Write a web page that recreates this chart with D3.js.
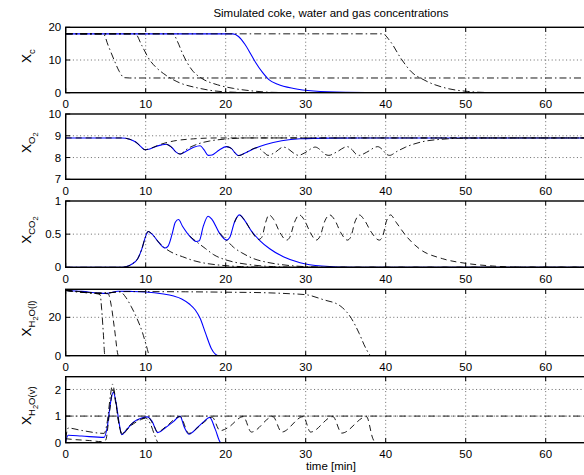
<!DOCTYPE html>
<html><head><meta charset="utf-8">
<script src="https://cdn.jsdelivr.net/npm/d3@7"></script>
<style>body{margin:0;background:#fff} svg{display:block} text{font-family:"Liberation Sans",Arial,Helvetica,sans-serif}</style>
</head><body><svg id="c" width="584" height="475"></svg>
<script>
// ---------- data ----------
const xTicks = [0,10,20,30,40,50,60];
const title = "Simulated coke, water and gas concentrations";
const xLabel = "time [min]";

// Panel 1: X_c
const xcTicks = [0,10,20];
const xcBlue = [[0,18],[20.9,18],[21.6,17.2],[22.4,14.8],[23.2,11.5],[23.8,9],[24.6,6.2],[25.4,4],[26.5,2.6],[28.5,1.3],[31,0.5],[35,0.1],[40,0],[70,0]];
const xcPos1 = [[0,18],[4.7,18],[5.3,14.5],[6,10.3],[6.7,6.5],[7.3,4.6],[8,4.5],[70,4.5]];
const xcPos2 = [[0,18],[8.7,18],[9.5,14.5],[10.5,10],[11.4,7.5],[12.2,5.9],[13.9,3.4],[16.8,1.3],[19.7,0.3],[24,0],[70,0]];
const xcPos3 = [[0,18],[13.4,18],[14,15.5],[14.6,12],[15.8,6.9],[17,4.4],[19,2.4],[21,1.3],[23.5,0.5],[26,0.1],[30,0],[70,0]];
const xcPos4 = [[0,18],[39.6,18],[40.6,15.6],[41.9,10.5],[43.2,6.4],[44.8,3.9],[47.7,1.3],[50.2,0.4],[53,0.05],[56,0],[70,0]];

// Panel 2: X_O2
const o2Ticks = [7,8,9,10];
const o2Blue = [[0,8.9],[7,8.9],[8,8.84],[8.8,8.7],[9.4,8.5],[9.9,8.36],[10.4,8.38],[11.2,8.5],[12,8.58],[12.6,8.61],[13.3,8.45],[13.8,8.25],[14.3,8.16],[15,8.28],[16,8.47],[16.8,8.54],[17.3,8.35],[17.8,8.1],[18.3,8.12],[19.2,8.35],[20.1,8.5],[20.7,8.42],[21.2,8.2],[21.6,8.09],[22.3,8.18],[23.5,8.4],[25,8.6],[27,8.77],[29.3,8.86],[33,8.89],[40,8.9],[70,8.9]];
const o2Pos1 = [[0,8.9],[7,8.9],[8,8.84],[8.8,8.7],[9.4,8.5],[9.9,8.36],[10.6,8.42],[11.8,8.6],[13.5,8.76],[16,8.86],[19,8.9],[70,8.9]];
const o2Pos2 = [[12.6,8.61],[13.3,8.45],[13.8,8.25],[14.3,8.16],[15.2,8.4],[16.5,8.62],[18,8.76],[20,8.85],[23,8.9],[70,8.9]];
const o2Pos3 = [[20.1,8.5],[20.7,8.42],[21.2,8.2],[21.6,8.09],[22.5,8.22],[23.4,8.4],[24,8.46],[24.6,8.3],[25.3,8.1],[26.1,8.22],[27.2,8.48],[27.8,8.4],[28.5,8.2],[29.1,8.1],[29.9,8.22],[31.2,8.48],[31.8,8.36],[32.4,8.15],[32.9,8.1],[33.8,8.24],[35.2,8.5],[35.8,8.36],[36.3,8.15],[36.7,8.1],[37.6,8.24],[39,8.5],[39.6,8.36],[40.1,8.15],[40.5,8.1],[41.4,8.28],[42.5,8.48],[44.5,8.72],[47,8.84],[50,8.89],[55,8.9],[70,8.9]];

// Panel 3: X_CO2
const co2Ticks = [0,0.5,1];
const co2Blue = [[0,0],[7,0],[7.6,0.01],[8.3,0.05],[9,0.13],[9.5,0.27],[10,0.47],[10.3,0.54],[10.8,0.5],[11.6,0.38],[12.4,0.29],[12.8,0.32],[13.3,0.5],[13.7,0.68],[14.1,0.72],[14.6,0.62],[15.5,0.47],[16.3,0.39],[16.7,0.4],[17.2,0.62],[17.8,0.77],[18.3,0.72],[19.2,0.52],[20.1,0.41],[20.5,0.45],[21.1,0.68],[21.7,0.79],[22.3,0.72],[23.2,0.55],[24.3,0.4],[25.5,0.28],[27.2,0.16],[29.3,0.07],[32,0.02],[36,0],[70,0]];
const co2Pos1 = [[0,0],[7,0],[7.6,0.01],[8.3,0.05],[9,0.13],[9.5,0.27],[10,0.47],[10.3,0.54],[10.8,0.5],[11.6,0.38],[12.4,0.29],[13.5,0.21],[14.6,0.16],[16,0.1],[17.5,0.06],[19.5,0.03],[22,0.01],[26,0],[70,0]];
const co2Pos2 = [[15.5,0.47],[16.3,0.39],[17.5,0.28],[18.5,0.19],[19.8,0.12],[21,0.08],[23,0.04],[26,0.01],[30,0],[70,0]];
const co2Pos3 = [[19.2,0.52],[20.1,0.41],[21,0.3],[22,0.22],[23.5,0.13],[25,0.08],[27,0.04],[30,0.01],[34,0],[70,0]];
const co2Pos4 = [[21.1,0.68],[21.7,0.79],[22.3,0.72],[23.2,0.55],[24.1,0.42],[24.5,0.45],[25,0.68],[25.4,0.79],[26,0.72],[26.8,0.52],[27.6,0.41],[28,0.45],[28.6,0.68],[29.2,0.79],[29.8,0.72],[30.6,0.52],[31.3,0.41],[31.8,0.47],[32.4,0.7],[33,0.79],[33.6,0.72],[34.4,0.52],[35.2,0.41],[35.6,0.45],[36.2,0.7],[36.7,0.79],[37.3,0.72],[38.2,0.53],[39.2,0.41],[39.6,0.46],[40.1,0.7],[40.6,0.79],[41.3,0.68],[42.5,0.48],[44.2,0.28],[47.1,0.13],[50,0.06],[53.3,0.02],[57,0],[70,0]];

// Panel 4: X_H2O(l)
const h2olTicks = [0,20];
const h2olBlue = [[0,34],[2,33.5],[4,32.7],[5,32.4],[5.6,32.8],[6.5,33.6],[8,33.5],[10,33.2],[12,32.3],[13.5,31.1],[14.5,29.6],[15.5,26.8],[16.2,23.8],[16.8,19.5],[17.5,11.5],[18.2,3.8],[18.7,0.8],[19.1,0],[70,0]];
const h2olPos1 = [[0,34],[2,33.2],[4,32.2],[4.3,31.8],[4.5,24],[4.7,12],[4.9,0],[70,0]];
const h2olPos2 = [[0,34],[2,33.3],[4,32.5],[5.3,32.3],[5.7,26],[6.1,14],[6.6,0],[70,0]];
const h2olPos3 = [[0,34],[4,32.6],[5.5,32.8],[6.8,33.3],[7.5,30.5],[8.2,25.5],[8.9,19.5],[9.6,12],[10.1,5],[10.5,0],[70,0]];
const h2olPos4 = [[0,34],[4,32.6],[5.5,32.8],[7,33.4],[15,33.3],[20,33.1],[25,32.8],[28,32.3],[30,31.8],[32.2,29.2],[34.3,26],[35.7,19.5],[36.7,11.5],[37.5,4],[38.2,0],[70,0]];

// Panel 5: X_H2O(v)
const h2ovTicks = [0,1,2];
const h2ovBlue = [[0,0.03],[0.3,0.28],[2,0.25],[4.8,0.2],[5.2,0.6],[5.6,1.5],[5.95,1.9],[6.3,1.5],[6.7,0.7],[7,0.3],[7.5,0.45],[8.5,0.78],[9.5,0.93],[10.2,0.97],[10.8,0.8],[11.5,0.38],[12.5,0.57],[13.5,0.8],[14.3,1.0],[14.8,0.6],[15.4,0.32],[16.5,0.58],[17.3,0.8],[18.0,0.95],[18.7,0.5],[19.4,0],[70,0]];
const h2ovPos1 = [[0,1],[70,1]];
const h2ovPos2 = [[0,0.15],[0.3,0.55],[2,0.46],[4.8,0.35],[5.2,0.8],[5.6,1.8],[5.85,2.2],[6.2,1.7],[6.6,0.8],[7,0.33],[8,0.65],[9,0.85],[10,0.93],[10.6,0.7],[11.1,0.3],[11.6,0],[70,0]];
const h2ovPos3 = [[0,0.15],[1,0.12],[3,0.08],[4.5,0.04],[5,0.1],[5.5,1.2],[5.9,2.0],[6.3,1.4],[6.8,0.5],[7.1,0.33],[8,0.6],[9.5,0.88],[10.3,0.95],[11,0.65],[11.5,0.4],[12.5,0.6],[14.3,0.98],[15.4,0.35],[17,0.7],[18.3,0.96],[19.3,0.45],[20.2,0.55],[22.2,0.98],[23.2,0.4],[25.9,0.98],[27,0.4],[29.7,0.98],[30.6,0.4],[33.4,0.98],[34.5,0.36],[37.6,0.98],[38.4,0.15],[38.7,0],[70,0]];

// ---------- drawing ----------
const DASH = "6,4", DASHDOT = "7,3,1.5,3";
const W = 584, H = 475;
const svg = d3.select("#c");
svg.append("rect").attr("width", W).attr("height", H).attr("fill", "#fff");

const x = d3.scaleLinear().domain([0, 70]).range([65.7, 625.7]);

const panels = [
  {top: 27.3, bottom: 92.7, dom: [0, 20], ticks: xcTicks,
   label: [["X",0],["c",1]], blue: xcBlue,
   black: [[xcPos1, DASHDOT],[xcPos2, DASHDOT],[xcPos3, DASHDOT],[xcPos4, DASHDOT]]},
  {top: 114, bottom: 179.3, dom: [7, 10], ticks: o2Ticks,
   label: [["X",0],["O",1],["2",2]], blue: o2Blue,
   black: [[o2Pos1, DASH],[o2Pos2, DASHDOT],[o2Pos3, DASHDOT]]},
  {top: 201, bottom: 267.3, dom: [0, 1], ticks: co2Ticks,
   label: [["X",0],["CO",1],["2",2]], blue: co2Blue,
   black: [[co2Pos1, DASHDOT],[co2Pos2, DASHDOT],[co2Pos3, DASHDOT],[co2Pos4, DASH]]},
  {top: 289.3, bottom: 355.7, dom: [0, 34.6], ticks: h2olTicks,
   label: [["X",0],["H",1],["2",2],["O(l)",1]], blue: h2olBlue,
   black: [[h2olPos1, DASHDOT],[h2olPos2, DASH],[h2olPos3, DASHDOT],[h2olPos4, DASHDOT]]},
  {top: 376.7, bottom: 442.7, dom: [0, 2.48], ticks: h2ovTicks,
   label: [["X",0],["H",1],["2",2],["O(v)",1]], blue: h2ovBlue,
   black: [[h2ovPos1, DASHDOT],[h2ovPos2, DASHDOT],[h2ovPos3, DASH]]}
];

const FS = 11.5;
panels.forEach((p, i) => {
  const y = d3.scaleLinear().domain(p.dom).range([p.bottom, p.top]);
  const g = svg.append("g");
  const cid = "clip" + i;
  svg.append("clipPath").attr("id", cid).append("rect")
    .attr("x", x(0)).attr("y", p.top).attr("width", x(70) - x(0)).attr("height", p.bottom - p.top);

  // grid
  const gg = g.append("g").attr("stroke", "#444").attr("stroke-width", 0.8).attr("stroke-dasharray", "1,2.6");
  xTicks.filter(t => t > 0).forEach(t => {
    gg.append("line").attr("x1", x(t)).attr("x2", x(t)).attr("y1", p.top).attr("y2", p.bottom);
  });
  p.ticks.filter(t => t > p.dom[0] && t < p.dom[1]).forEach(t => {
    gg.append("line").attr("x1", x(0)).attr("x2", x(70)).attr("y1", y(t)).attr("y2", y(t));
  });

  // lines
  const line = d3.line().x(d => x(d[0])).y(d => y(d[1])).curve(d3.curveMonotoneX);
  const lg = g.append("g").attr("clip-path", `url(#${cid})`).attr("fill", "none");
  lg.append("path").attr("d", line(p.blue)).attr("stroke", "#0000ff").attr("stroke-width", 1.1);
  p.black.forEach(([d, dash]) => {
    lg.append("path").attr("d", line(d)).attr("stroke", "#000").attr("stroke-width", 0.9)
      .attr("stroke-dasharray", dash);
  });

  // box
  g.append("rect").attr("x", x(0)).attr("y", p.top).attr("width", x(70) - x(0)).attr("height", p.bottom - p.top)
    .attr("fill", "none").attr("stroke", "#000").attr("stroke-width", 1.4);

  // ticks
  const tg = g.append("g").attr("stroke", "#000").attr("stroke-width", 1);
  xTicks.forEach(t => {
    tg.append("line").attr("x1", x(t)).attr("x2", x(t)).attr("y1", p.bottom).attr("y2", p.bottom - 4.5);
    tg.append("line").attr("x1", x(t)).attr("x2", x(t)).attr("y1", p.top).attr("y2", p.top + 4.5);
  });
  p.ticks.forEach(t => {
    tg.append("line").attr("x1", x(0)).attr("x2", x(0) + 4.5).attr("y1", y(t)).attr("y2", y(t));
  });

  // tick labels
  xTicks.forEach(t => {
    g.append("text").attr("x", x(t)).attr("y", p.bottom + 15.5).attr("text-anchor", "middle")
      .attr("font-size", FS).text(t);
  });
  p.ticks.forEach(t => {
    g.append("text").attr("x", x(0) - 4.5).attr("y", y(t)).attr("dy", "0.36em").attr("text-anchor", "end")
      .attr("font-size", FS).text(t);
  });

  // y label with subscripts
  const cy = (p.top + p.bottom) / 2 - 4;
  const lt = g.append("text").attr("transform", `translate(31,${cy}) rotate(-90)`).attr("text-anchor", "middle");
  const sizes = [13.5, 9.5, 7.5], offs = [0, 4, 6.5];
  let lvl = 0;
  p.label.forEach(([s, l]) => {
    lt.append("tspan").attr("font-size", sizes[l]).attr("dy", offs[l] - offs[lvl]).text(s);
    lvl = l;
  });
});

svg.append("text").attr("x", 331).attr("y", 17).attr("text-anchor", "middle").attr("font-size", 11.5).text(title);
svg.append("text").attr("x", 331).attr("y", 470).attr("text-anchor", "middle").attr("font-size", 11.5).text(xLabel);
</script></body></html>
